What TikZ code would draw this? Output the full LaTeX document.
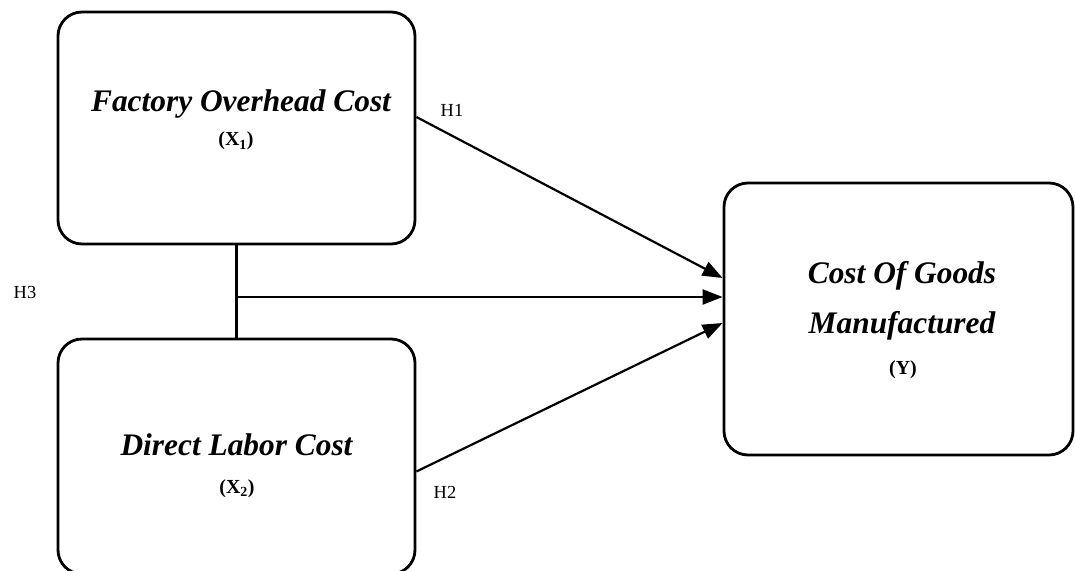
\documentclass[tikz,border=0pt]{standalone}
\usepackage{fontspec}
\setmainfont{Liberation Serif}
\usetikzlibrary{arrows.meta}
\begin{document}
\begin{tikzpicture}[x=1bp,y=-1bp,
  box/.style={draw, line width=2.8bp, rounded corners=24bp, inner sep=0},
  conn/.style={line width=2.2bp},
  arr/.style={conn, -{Triangle[length=20bp,width=15bp]}},
  title/.style={font=\fontsize{31.5}{36}\selectfont\bfseries\itshape, anchor=base, inner sep=0},
  sub/.style={font=\fontsize{20}{24}\selectfont\bfseries, anchor=base, inner sep=0},
  hyp/.style={font=\fontsize{18.5}{22}\selectfont, anchor=base, inner sep=0}]
\useasboundingbox (0,0) rectangle (1075,571);
% boxes
\node[box, minimum width=357bp, minimum height=232bp] (b1) at (236.5,128) {};
\node[box, minimum width=357bp, minimum height=235bp] (b2) at (236.5,456.5) {};
\node[box, minimum width=349bp, minimum height=272bp] (b3) at (898.5,319) {};
% texts
\node[title] (t1) at (241,112) {Factory Overhead Cost};
\node[sub] (s1) at (236,146) {(X\textsubscript{1})};
\node[title] (t2) at (236.5,455) {Direct Labor Cost};
\node[sub] (s2) at (237,493) {(X\textsubscript{2})};
\node[title] (t3a) at (902,284) {Cost Of Goods};
\node[title] (t3b) at (902,333) {Manufactured};
\node[sub] (s3) at (903,374) {(Y)};
\node[hyp] (h1) at (452,117) {H1};
\node[hyp] (h2) at (445,498) {H2};
\node[hyp] (h3) at (25,299) {H3};
% connectors
\coordinate (j) at (236.5,297);
\draw[conn] (b1.south) -- (b2.north);
\draw[arr] ([yshift=11bp]b1.east) -- ([yshift=41bp]b3.west);
\draw[arr] (j) -- (j -| b3.west);
\draw[arr] ([yshift=-15bp]b2.east) -- ([yshift=-4bp]b3.west);
\end{tikzpicture}
\end{document}
